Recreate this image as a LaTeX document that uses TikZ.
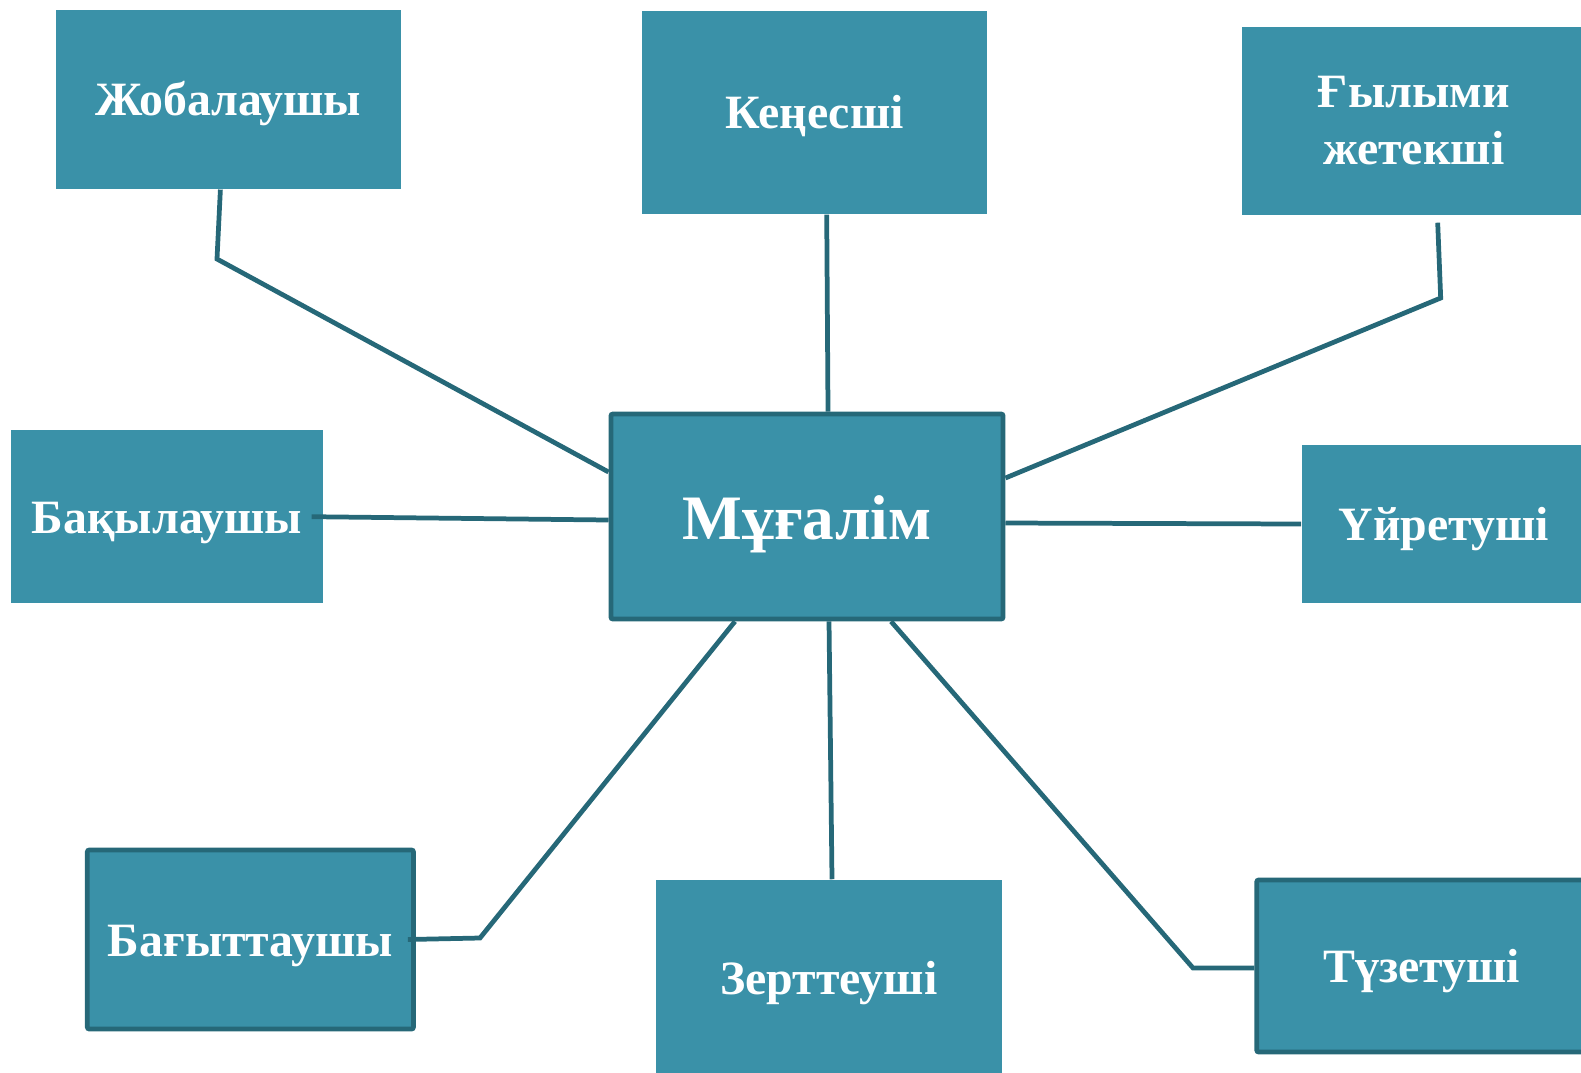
\documentclass[tikz,border=0pt]{standalone}
\usepackage{fontspec}
\setmainfont{Liberation Serif}
\definecolor{rolefill}{RGB}{58,145,168}
\definecolor{roleline}{RGB}{38,104,120}
\tikzset{
    role/.style={fill=rolefill, text=white, inner sep=0pt,
        font=\bfseries\fontsize{13.6}{16.2}\selectfont},
    oneline/.style={role, text height=12pt, text depth=2.6pt},
    framed/.style={draw=roleline, line width=1.35pt, rounded corners=0.6pt},
    link/.style={draw=roleline, line width=1.35pt},
}

\begin{document}
\begin{tikzpicture}[x=0.01cm, y=-0.01cm]
    \useasboundingbox (0,0) rectangle (1581,1072);
    % centre
    \node[oneline, framed, minimum width=3.92cm, minimum height=2.05cm, text height=17pt, text depth=4pt,
        font=\bfseries\fontsize{18}{22}\selectfont] (mugal) at (807,516.5) {Мұғалім};
    % roles round it
    \node[oneline, minimum width=3.455cm, minimum height=1.79cm] (jobal) at (228.4,99.3) {Жобалаушы};
    \node[oneline, minimum width=3.45cm, minimum height=2.03cm] (kenes) at (814.7,112.4) {Кеңесші};
    \node[role, align=center, minimum width=3.44cm, minimum height=1.88cm] (gylym) at (1413.7,121) {Ғылыми\\жетекші};
    \node[oneline, minimum width=3.116cm, minimum height=1.725cm] (bakyl) at (167,516.7) {Бақылаушы};
    \node[oneline, minimum width=2.84cm, minimum height=1.58cm] (uiret) at (1444,524) {Үйретуші};
    \node[oneline, framed, minimum width=3.26cm, minimum height=1.79cm] (bagyt) at (250.4,939.5) {Бағыттаушы};
    \node[oneline, minimum width=3.45cm, minimum height=1.96cm] (zertt) at (829,978) {Зерттеуші};
    \node[oneline, framed, minimum width=3.30cm, minimum height=1.72cm] (tuzet) at (1421.8,966) {Түзетуші};
    % bends
    \coordinate (jobalbend) at (217,259);
    \coordinate (gylymtop) at (1437.7,222.7);
    \coordinate (gylymbend) at (1440.7,298);
    \coordinate (bagytbend) at (480,938);
    \coordinate (tuzetbend) at (1193,968);
    % connectors
    \draw[link] ([xshift=-0.08cm]jobal.south) -- (jobalbend) -- ([yshift=0.445cm]mugal.west);
    \draw[link] ([xshift=0.12cm]kenes.south) -- ([xshift=0.21cm]mugal.north);
    \draw[link] (gylymtop) -- (gylymbend) -- ([yshift=0.385cm]mugal.east);
    \draw[link] ([xshift=-0.12cm]bakyl.east) -- ([yshift=-0.035cm]mugal.west);
    \draw[link] ([yshift=-0.065cm]mugal.east) -- (uiret.west);
    \draw[link] ([xshift=-0.08cm]bagyt.east) -- (bagytbend) -- ([xshift=-0.72cm]mugal.south);
    \draw[link] ([xshift=0.22cm]mugal.south) -- ([xshift=0.03cm]zertt.north);
    \draw[link] ([xshift=0.84cm]mugal.south) -- (tuzetbend) -- ([yshift=-0.02cm]tuzet.west);
\end{tikzpicture}
\end{document}
